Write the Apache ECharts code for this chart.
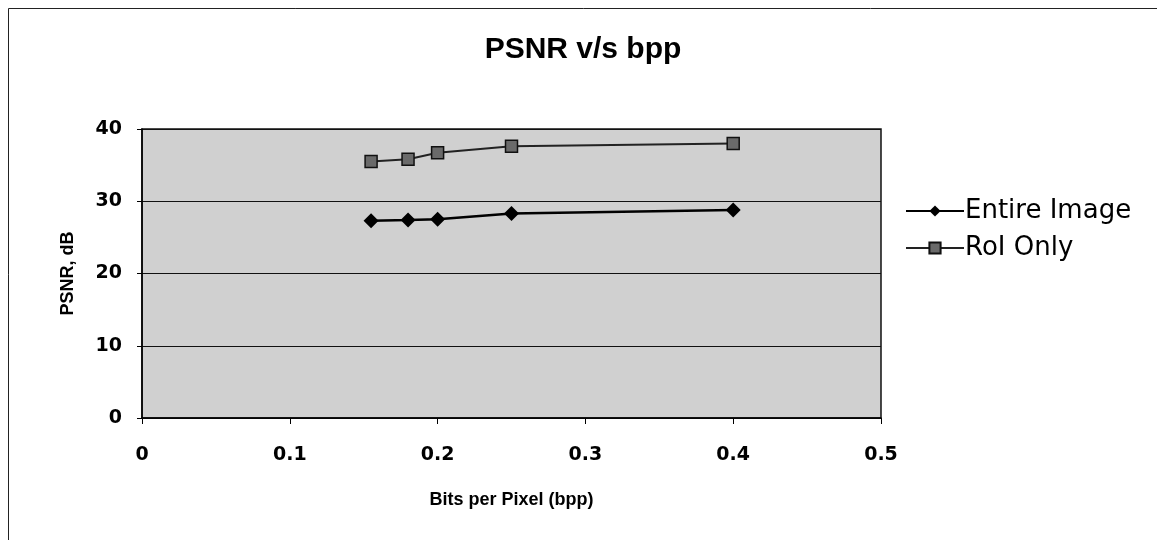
<!DOCTYPE html>
<html>
<head>
<meta charset="utf-8">
<script src="https://cdn.jsdelivr.net/npm/echarts@6/dist/echarts.min.js"></script>
<style>html,body{margin:0;padding:0;background:#fff}#c{width:1157px;height:540px}</style>
</head>
<body>
<div id="c"></div>
<script>
const bpp = [0.155, 0.18, 0.2, 0.25, 0.4];
const entireImage = [27.3, 27.4, 27.5, 28.3, 28.8];
const roiOnly = [35.5, 35.8, 36.7, 37.6, 38.0];
const seriesNames = ['Entire Image', 'RoI Only'];

const chart = echarts.init(document.getElementById('c'));
const toPairs = (xs, ys) => xs.map((x, i) => [x, ys[i]]);
const font = 'Liberation Sans, Arial, sans-serif';
const wide = 'DejaVu Sans, sans-serif';

chart.setOption({
  animation: false,
  backgroundColor: '#fff',
  title: {
    text: 'PSNR v/s bpp',
    left: 578, top: 30, textAlign: 'center',
    textStyle: { fontFamily: font, fontSize: 30, fontWeight: 'bold', color: '#000' }
  },
  graphic: [{
    type: 'rect', shape: { x: 8.5, y: 8.5, width: 1300, height: 700 },
    style: { fill: 'none', stroke: '#222', lineWidth: 1 }, silent: true
  }],
  legend: {
    orient: 'vertical', left: 900, top: 193, itemGap: 11,
    itemWidth: 58, itemHeight: 14,
    textStyle: { fontFamily: wide, fontSize: 26, color: '#000', padding: [0, 0, 0, -4] },
    data: seriesNames
  },
  grid: { left: 142, top: 129, width: 739, height: 289, backgroundColor: '#d0d0d0', show: true, borderColor: '#111', borderWidth: 1.5 },
  xAxis: {
    type: 'value', min: 0, max: 0.5, interval: 0.1,
    name: 'Bits per Pixel (bpp)', nameLocation: 'middle', nameGap: 73, nameMoveOverlap: false,
    nameTextStyle: { fontFamily: font, fontSize: 18, fontWeight: 'bold', color: '#000' },
    axisLine: { lineStyle: { color: '#000', width: 1.5 } },
    axisTick: { show: true, length: 6, lineStyle: { color: '#000' } },
    axisLabel: { fontFamily: wide, fontSize: 19, fontWeight: 'bold', color: '#000', margin: 28 },
    splitLine: { show: false }
  },
  yAxis: {
    type: 'value', min: 0, max: 40, interval: 10,
    name: 'PSNR, dB', nameLocation: 'middle', nameGap: 65, nameMoveOverlap: false,
    nameTextStyle: { fontFamily: font, fontSize: 18, fontWeight: 'bold', color: '#000' },
    axisLine: { show: true, lineStyle: { color: '#000', width: 1.5 } },
    axisTick: { show: true, length: 5, lineStyle: { color: '#000' } },
    axisLabel: { fontFamily: wide, fontSize: 19, fontWeight: 'bold', color: '#000', margin: 20 },
    splitLine: { show: true, lineStyle: { color: '#111', width: 1.2 } }
  },
  series: [
    {
      name: seriesNames[0], type: 'line', data: toPairs(bpp, entireImage),
      symbol: 'diamond', symbolSize: 15,
      lineStyle: { color: '#000', width: 2.5 },
      itemStyle: { color: '#000' }
    },
    {
      name: seriesNames[1], type: 'line', data: toPairs(bpp, roiOnly),
      symbol: 'rect', symbolSize: 12,
      lineStyle: { color: '#222', width: 2 },
      itemStyle: { color: '#6a6a6a', borderColor: '#111', borderWidth: 1.5 }
    }
  ]
});
</script>
</body>
</html>
